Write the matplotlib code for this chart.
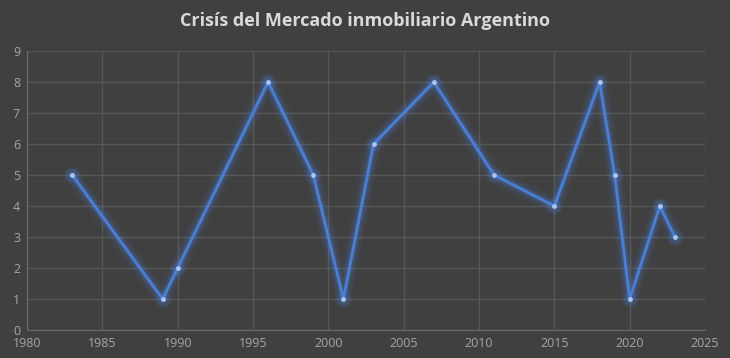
import numpy as np
import matplotlib
matplotlib.use("Agg")
import matplotlib.pyplot as plt

years = [1983, 1989, 1990, 1996, 1999, 2001, 2003, 2007, 2011, 2015, 2018, 2019, 2020, 2022, 2023]
values = [5, 1, 2, 8, 5, 1, 6, 8, 5, 4, 8, 5, 1, 4, 3]

title = "Crisís del Mercado inmobiliario Argentino"
bg = "#404040"
grid_color = "#575757"
text_color = "#a6a6a6"
line_color = "#4a7fd6"

fig = plt.figure(figsize=(7.3, 3.58), dpi=100, facecolor=bg)
ax = fig.add_axes([0.037, 0.078, 0.9288, 0.7795])
ax.set_facecolor(bg)

# glow under the line
for lw, a in [(12, 0.05), (9, 0.07), (6, 0.1), (4, 0.15)]:
    ax.plot(years, values, color="#4f86e8", lw=lw, alpha=a, solid_capstyle="round", zorder=2)
for ms, a in [(12, 0.08), (9, 0.12)]:
    ax.plot(years, values, "o", color="#4f86e8", ms=ms, alpha=a, mec="none", zorder=2)
ax.plot(years, values, color=line_color, lw=2, zorder=3)
ax.plot(years, values, "o", color="#a9c4f0", ms=3.5, mec="none", zorder=4)

ax.set_xlim(1980, 2025)
ax.set_ylim(0, 9)
ax.set_xticks(np.arange(1980, 2026, 5))
ax.set_yticks(np.arange(0, 10, 1))
ax.grid(True, color=grid_color, lw=1)
ax.set_axisbelow(True)
for side in ["top", "right"]:
    ax.spines[side].set_visible(False)
ax.spines["left"].set_color("#6a6a6a")
ax.spines["bottom"].set_color("#6a6a6a")
ax.tick_params(length=0, colors=text_color, labelsize=9, pad=5)
for lbl in ax.get_xticklabels() + ax.get_yticklabels():
    lbl.set_family("Open Sans")

fig.text(0.5, 0.94, title, ha="center", va="center", fontsize=13, fontweight="bold",
         color="#d9d9d9", family="Open Sans")

fig.savefig("out.png", dpi=100, facecolor=bg)
